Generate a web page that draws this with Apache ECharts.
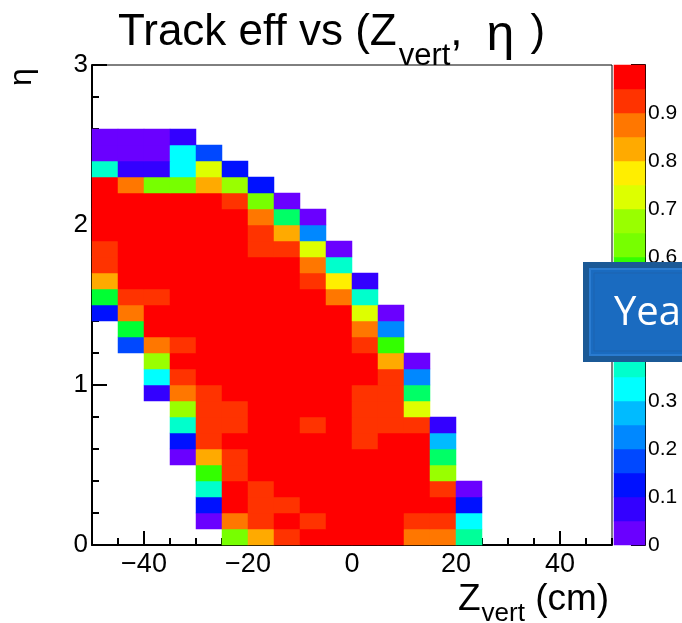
<!DOCTYPE html>
<html>
<head>
<meta charset="utf-8">
<title>Track eff vs (Zvert, eta)</title>
<script src="https://cdn.jsdelivr.net/npm/echarts@6/dist/echarts.min.js"></script>
<style>
  html, body { margin: 0; padding: 0; background: #fff; }
  #chart { width: 682px; height: 623px; }
</style>
</head>
<body>
<div id="chart"></div>
<script>
// Zvert bins (cm), 5 cm wide, by centre
var zBins = [-47.5, -42.5, -37.5, -32.5, -27.5, -22.5, -17.5, -12.5, -7.5, -2.5,
             2.5, 7.5, 12.5, 17.5, 22.5, 27.5, 32.5, 37.5, 42.5, 47.5];
// eta bins, 0.1 wide, by centre
var etaBins = [0.05, 0.15, 0.25, 0.35, 0.45, 0.55, 0.65, 0.75, 0.85, 0.95,
               1.05, 1.15, 1.25, 1.35, 1.45, 1.55, 1.65, 1.75, 1.85, 1.95,
               2.05, 2.15, 2.25, 2.35, 2.45, 2.55, 2.65, 2.75, 2.85, 2.95];

var n = null;
// efficiency per eta bin (index = eta bin), 20 Zvert bins each; null = empty
var eff00 = [n,n,n,n,n,.62,.82,.92,.97,.97,.97,.97,.87,.87,.42,n,n,n,n,n];
var eff01 = [n,n,n,n,.02,.87,.92,.97,.92,.97,.97,.97,.92,.92,.32,n,n,n,n,n];
var eff02 = [n,n,n,n,.12,.97,.92,.92,.97,.97,.97,.97,.97,.97,.12,n,n,n,n,n];
var eff03 = [n,n,n,n,.37,.97,.92,.97,.97,.97,.97,.97,.97,.92,.02,n,n,n,n,n];
var eff04 = [n,n,n,n,.57,.92,.97,.97,.97,.97,.97,.97,.97,.67,n,n,n,n,n,n];
var eff05 = [n,n,n,.02,.82,.92,.97,.97,.97,.97,.97,.97,.97,.47,n,n,n,n,n,n];
var eff06 = [n,n,n,.12,.92,.97,.97,.97,.97,.97,.92,.97,.97,.27,n,n,n,n,n,n];
var eff07 = [n,n,n,.37,.92,.92,.97,.97,.92,.97,.92,.92,.92,.07,n,n,n,n,n,n];
var eff08 = [n,n,n,.67,.92,.92,.97,.97,.97,.97,.92,.92,.72,n,n,n,n,n,n,n];
var eff09 = [n,n,.07,.87,.92,.97,.97,.97,.97,.97,.92,.92,.47,n,n,n,n,n,n,n];
var eff10 = [n,n,.32,.92,.97,.97,.97,.97,.97,.97,.97,.92,.22,n,n,n,n,n,n,n];
var eff11 = [n,n,.67,.97,.97,.97,.97,.97,.97,.97,.97,.82,.02,n,n,n,n,n,n,n];
var eff12 = [n,.17,.87,.92,.97,.97,.97,.97,.97,.97,.92,.57,n,n,n,n,n,n,n,n];
var eff13 = [n,.52,.97,.97,.97,.97,.97,.97,.97,.97,.87,.22,n,n,n,n,n,n,n,n];
var eff14 = [.12,.87,.97,.97,.97,.97,.97,.97,.97,.97,.72,.02,n,n,n,n,n,n,n,n];
var eff15 = [.52,.92,.92,.97,.97,.97,.97,.97,.97,.87,.37,n,n,n,n,n,n,n,n,n];
var eff16 = [.82,.97,.97,.97,.97,.97,.97,.97,.92,.77,.07,n,n,n,n,n,n,n,n,n];
var eff17 = [.92,.97,.97,.97,.97,.97,.97,.97,.87,.37,n,n,n,n,n,n,n,n,n,n];
var eff18 = [.92,.97,.97,.97,.97,.97,.92,.92,.72,.02,n,n,n,n,n,n,n,n,n,n];
var eff19 = [.97,.97,.97,.97,.97,.97,.92,.82,.22,n,n,n,n,n,n,n,n,n,n,n];
var eff20 = [.97,.97,.97,.97,.97,.97,.87,.47,.02,n,n,n,n,n,n,n,n,n,n,n];
var eff21 = [.97,.97,.97,.97,.97,.92,.62,.02,n,n,n,n,n,n,n,n,n,n,n,n];
var eff22 = [.97,.87,.62,.62,.82,.67,.12,n,n,n,n,n,n,n,n,n,n,n,n,n];
var eff23 = [.37,.07,.07,.32,.72,.12,n,n,n,n,n,n,n,n,n,n,n,n,n,n];
var eff24 = [.02,.02,.02,.32,.17,n,n,n,n,n,n,n,n,n,n,n,n,n,n,n];
var eff25 = [.02,.02,.02,.07,n,n,n,n,n,n,n,n,n,n,n,n,n,n,n,n];

var xTicks = [-40, -20, 0, 20, 40];
// palette levels (colour bar), one per band
var cbLevels = [0.025, 0.075, 0.125, 0.175, 0.225, 0.275, 0.325, 0.375, 0.425, 0.475,
                0.525, 0.575, 0.625, 0.675, 0.725, 0.775, 0.825, 0.875, 0.925, 0.975];
var palette = ['#6a00ff', '#3300ff', '#0011ff', '#0048ff', '#0088ff', '#00bbff', '#00ffff', '#00ffcc', '#00ff99', '#00ff66',
               '#00ff33', '#33ff00', '#77ff00', '#99ff00', '#ddff00', '#ffee00', '#ffaa00', '#ff7700', '#ff3300', '#ff0000'];

var effRows = [eff00, eff01, eff02, eff03, eff04, eff05, eff06, eff07, eff08, eff09, eff10, eff11, eff12,
               eff13, eff14, eff15, eff16, eff17, eff18, eff19, eff20, eff21, eff22, eff23, eff24, eff25];

var FONT = 'Liberation Sans';

var cells = [];
effRows.forEach(function (row, j) {
  row.forEach(function (v, i) {
    if (v !== null) cells.push([i, j, v]);
  });
});
var cbCells = cbLevels.map(function (v, k) { return [0, k, v]; });
var pieces = palette.map(function (c, k) {
  return { gte: k / 20, lt: (k + 1) / 20, color: c };
});

function minus(v) { return String(v).replace('-', '\u2212'); }

var chart = echarts.init(document.getElementById('chart'));
var option = {
  animation: false,
  backgroundColor: '#fff',
  grid: [
    { left: 92, top: 65, width: 520, height: 480, show: true, borderColor: '#000', borderWidth: 1, backgroundColor: '#fff' },
    { left: 614, top: 65, width: 31, height: 480 }
  ],
  visualMap: { type: 'piecewise', show: false, dimension: 2, seriesIndex: [0, 1], pieces: pieces },
  xAxis: [
    { type: 'category', gridIndex: 0, data: zBins, show: false },
    { type: 'value', gridIndex: 0, min: -50, max: 50, position: 'bottom',
      axisLine: { show: true, onZero: false, lineStyle: { color: '#000', width: 2 } },
      axisTick: { show: true, inside: true, length: 14, customValues: xTicks, lineStyle: { color: '#000', width: 2 } },
      axisLabel: { customValues: xTicks, formatter: minus, fontSize: 27, fontFamily: FONT, color: '#000', margin: 6 },
      splitLine: { show: false } },
    { type: 'value', gridIndex: 0, min: -50, max: 50, interval: 5, position: 'bottom',
      axisLine: { show: false, onZero: false },
      axisTick: { show: true, inside: true, length: 7, lineStyle: { color: '#000', width: 2 } },
      axisLabel: { show: false }, splitLine: { show: false } },
    { type: 'category', gridIndex: 1, data: ['z'], show: false }
  ],
  yAxis: [
    { type: 'category', gridIndex: 0, data: etaBins, show: false },
    { type: 'value', gridIndex: 0, min: 0, max: 3, interval: 1, position: 'left',
      axisLine: { show: true, onZero: false, lineStyle: { color: '#000', width: 2 } },
      axisTick: { show: true, inside: true, length: 15, lineStyle: { color: '#000', width: 2 } },
      axisLabel: { fontSize: 26, fontFamily: FONT, color: '#000', margin: 4 },
      splitLine: { show: false } },
    { type: 'value', gridIndex: 0, min: 0, max: 3, interval: 0.2, position: 'left',
      axisLine: { show: false, onZero: false },
      axisTick: { show: true, inside: true, length: 7, lineStyle: { color: '#000', width: 2 } },
      axisLabel: { show: false }, splitLine: { show: false } },
    { type: 'category', gridIndex: 1, data: cbLevels, show: false },
    { type: 'value', gridIndex: 1, min: 0, max: 1, interval: 0.1, position: 'right',
      axisLine: { show: true, onZero: false, lineStyle: { color: '#000', width: 2 } },
      axisTick: { show: true, inside: true, length: 14, lineStyle: { color: '#000', width: 2 } },
      axisLabel: { fontSize: 21, fontFamily: FONT, color: '#000', margin: 3,
        formatter: function (v) { return v >= 1 ? '' : String(v); } },
      splitLine: { show: false } }
  ],
  series: [
    { type: 'heatmap', xAxisIndex: 0, yAxisIndex: 0, data: cells,
      itemStyle: { borderWidth: 0 }, emphasis: { disabled: true }, silent: true },
    { type: 'heatmap', xAxisIndex: 3, yAxisIndex: 3, data: cbCells,
      itemStyle: { borderWidth: 0 }, emphasis: { disabled: true }, silent: true }
  ],
  graphic: [
    { type: 'text', left: 118, top: 11, z: 50,
      style: { text: '{m|Track eff vs (Z}{s|vert}{m|,}{g|\u03b7}{m|)}',
        rich: {
          m: { fontSize: 44, fontFamily: FONT, fill: '#000', lineHeight: 48, verticalAlign: 'top' },
          s: { fontSize: 31, fontFamily: FONT, fill: '#000', lineHeight: 31, verticalAlign: 'top', padding: [30, 0, 0, 2] },
          g: { fontSize: 50, fontFamily: FONT, fill: '#000', lineHeight: 48, verticalAlign: 'top', padding: [0, 16, 0, 24] }
        } } },
    { type: 'text', left: 458, top: 581, z: 50,
      style: { text: '{m|Z}{s|vert}{m| (cm)}',
        rich: {
          m: { fontSize: 37, fontFamily: FONT, fill: '#000', lineHeight: 38, verticalAlign: 'top' },
          s: { fontSize: 26, fontFamily: FONT, fill: '#000', lineHeight: 26, verticalAlign: 'top', padding: [20, 0, 0, 1] }
        } } },
    { type: 'text', x: 6, y: 86, rotation: Math.PI / 2, z: 50,
      style: { text: '\u03b7', fontSize: 32, fontFamily: FONT, fill: '#000' } },
    // slide overlay box
    { type: 'rect', z: 100, shape: { x: 583, y: 262, width: 110, height: 100 }, style: { fill: '#1b5996' } },
    { type: 'rect', z: 101, shape: { x: 590, y: 269, width: 100, height: 86 }, style: { fill: '#1a6bc0', stroke: '#2a7bd0', lineWidth: 2 } },
    { type: 'rect', z: 102, shape: { x: 594, y: 273, width: 100, height: 78 }, style: { fill: '#1a6bc0', stroke: '#1d64b0', lineWidth: 1 } },
    { type: 'text', z: 103, x: 614, y: 314, style: { text: 'Yea', fontSize: 40, fontFamily: 'Open Sans', fill: '#fff', verticalAlign: 'middle' } }
  ]
};
chart.setOption(option);
</script>
</body>
</html>
